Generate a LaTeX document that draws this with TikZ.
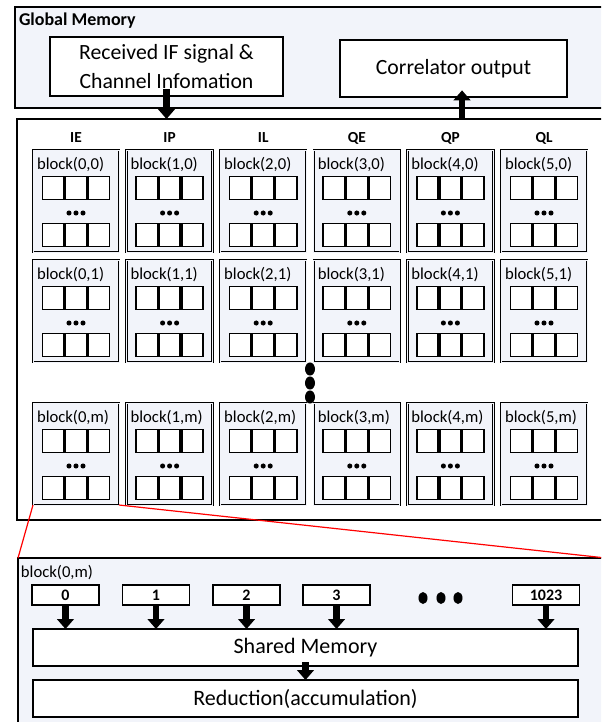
\documentclass[tikz,border=0pt]{standalone}
\usepackage{fontspec}
\setmainfont{Carlito}
\usetikzlibrary{arrows.meta, positioning, calc}

\definecolor{paleblue}{RGB}{242,244,250}

\begin{document}
\begin{tikzpicture}[
  x=1pt, y=-1pt,
  every node/.style={inner sep=0pt, outer sep=0pt},
  membox/.style={rectangle, draw, line width=1.2pt, fill=paleblue, anchor=north west},
  infobox/.style={rectangle, draw, line width=1.4pt, fill=white, align=center,
                  font=\fontsize{16.3}{22}\selectfont, anchor=north west},
  blockbox/.style={rectangle, draw, line width=0.6pt, double=paleblue,
                   double distance=0.7pt, fill=paleblue, minimum width=64.5pt,
                   minimum height=76.5pt, anchor=north west},
  cell/.style={rectangle, draw, line width=1.2pt, fill=white,
               minimum width=16pt, minimum height=17pt},
  thread/.style={rectangle, draw, line width=1.3pt, fill=white,
                 minimum width=50.25pt, minimum height=15pt,
                 font=\bfseries\fontsize{12}{12}\selectfont},
  bar/.style={rectangle, draw, line width=1.3pt, fill=white,
              minimum width=408.75pt, minimum height=27.75pt,
              font=\fontsize{16.5}{18}\selectfont, anchor=north west},
  head/.style={font=\bfseries\fontsize{11.5}{12}\selectfont},
  lbl/.style={font=\fontsize{12.5}{13}\selectfont, anchor=west},
  arr/.style={line width=5pt, -{Triangle[width=12.5pt, length=7.5pt]}},
  zoomline/.style={draw=red, line width=0.9pt},
]
\useasboundingbox (0,0) rectangle (450.75,541.5);
\clip (0,0) rectangle (450.75,541.5);

% global memory
\node[membox, minimum width=443.25pt, minimum height=75.75pt] (gmem) at (11.25,5.25) {};
\node[lbl, font=\bfseries\fontsize{13.5}{14}\selectfont] (gmemlbl) at (14.25,15.75) {Global Memory};
\node[infobox, minimum width=174.75pt, minimum height=44.25pt] (recv) at (37.5,27.75)
  {Received IF signal \&\\Channel Infomation};
\node[infobox, minimum width=170.25pt, minimum height=42.75pt] (corr) at (255,30)
  {Correlator output};

% grid of blocks
\node[membox, fill=white, minimum width=450pt, minimum height=300.75pt] (main) at (12.75,89.25) {};
\foreach \c/\name in {0/IE, 1/IP, 2/IL, 3/QE, 4/QP, 5/QL}
  \node[head] (hd-\c) at (57+70.2*\c,103.5) {\name};

\foreach \r/\top in {0/112.5, 1/195, m/302.25} {
  \foreach \c in {0,...,5} {
    \node[blockbox] (blk-\c-\r) at (24.75+70.2*\c,\top) {};
    \node[lbl] (lbl-\c-\r) at ($(blk-\c-\r.north west)+(3,11.25)$) {block(\c,\r)};
    \foreach \k/\dx in {a/-17.2, b/0, c/17.2} {
      \node[cell] (up-\c-\r-\k) at ($(blk-\c-\r.north)+(\dx,28.5)$) {};
      \node[cell] (dn-\c-\r-\k) at ($(blk-\c-\r.north)+(\dx,63.75)$) {};
    }
    \foreach \d in {-5.25,0,5.25}
      \fill ($(blk-\c-\r.north)+(\d,47.25)$) circle (1.9pt);
  }
}
\foreach \yy in {276.75,287.25,297.75}
  \fill (232.5,\yy) ellipse [x radius=3.75pt, y radius=4.9pt];

\draw[arr] ([yshift=5pt]recv.south) -- (recv.south |- main.north);
\coordinate (upx) at ($(corr.south)+(6.4,0)$);
\draw[arr] (upx |- main.north) -- ([yshift=5pt]upx);

% zoom of block(0,m)
\node[membox, minimum width=441pt, minimum height=127.5pt] (detail) at (13.5,418.5) {};
\draw[zoomline] (blk-0-m.south west) -- (detail.north west);
\draw[zoomline] (blk-0-m.south east) -- (detail.north east);
\node[lbl] (detlbl) at (15.75,429.75) {block(0,m)};

\foreach \t/\xx in {0/49.1, 1/117, 2/184.9, 3/252.4, 1023/409.5}
  \node[thread] (t-\t) at (\xx,446.25) {\t};
\foreach \xx in {317.25,330.75,343.5}
  \fill (\xx,448.5) ellipse [x radius=3.4pt, y radius=4.5pt];

\node[bar] (shared) at (24.75,471.75) {Shared Memory};
\node[bar] (reduce) at (24.75,510) {Reduction(accumulation)};

\foreach \t in {0,1,2,3,1023}
  \draw[arr] (t-\t.south) -- (t-\t.south |- shared.north);
\draw[arr] ([yshift=3pt]shared.south) -- (reduce.north);
\end{tikzpicture}
\end{document}
